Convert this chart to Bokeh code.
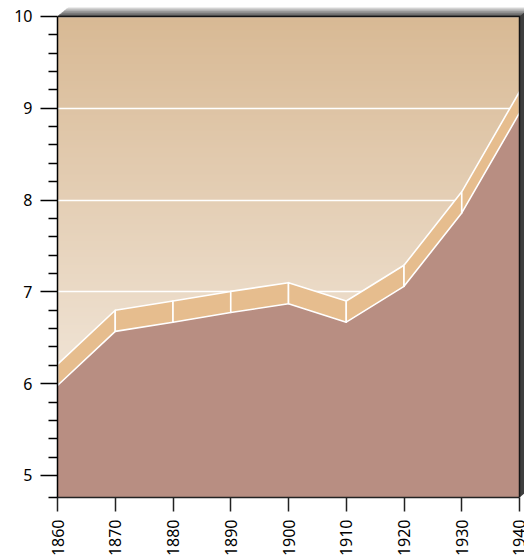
import numpy as np
from bokeh.plotting import figure
from bokeh.models import Range1d, FixedTicker
from bokeh.embed import file_html
from bokeh.resources import INLINE

# Series: value per decade
years = [1860, 1870, 1880, 1890, 1900, 1910, 1920, 1930, 1940]
values = [5.98, 6.57, 6.67, 6.775, 6.87, 6.67, 7.06, 7.86, 8.95]
y_ticks = [5, 6, 7, 8, 9, 10]
x_ticks = years

# Styling constants
DEPTH = 0.23            # vertical thickness of the 3D ribbon on top of the area
Y_MIN, Y_MAX = 4.76, 10
X_MIN, X_MAX = 1860, 1940
AREA_COLOR = "#b88e82"
RIBBON_COLOR = "#e6bd8e"
BG_TOP = (216, 185, 148)
BG_BOTTOM = (248, 242, 235)
FONT = "Noto Sans"

# Pixel geometry of the chart wall and its 3D depth edge
FRAME_W, FRAME_H = 462, 482
DX_PX, DY_PX = 11, 9
PX_X = FRAME_W / (X_MAX - X_MIN)
PX_Y = FRAME_H / (Y_MAX - Y_MIN)
DX = DX_PX / PX_X
DY = DY_PX / PX_Y
X_END = X_MAX + 5 / PX_X           # frame reaches the canvas edge
Y_END = Y_MAX + DY

p = figure(
    width=524, height=559,
    x_range=Range1d(X_MIN, X_END), y_range=Range1d(Y_MIN, Y_END),
    output_backend="svg", toolbar_location=None,
    min_border_left=57, min_border_right=0,
    min_border_top=7, min_border_bottom=61,
)
p.outline_line_color = None
p.background_fill_color = "white"
p.border_fill_color = "white"

# Vertical background gradient of the plot wall
n_rows = FRAME_H
img = np.empty((n_rows, 1), dtype=np.uint32)
view = img.view(dtype=np.uint8).reshape((n_rows, 1, 4))
for i in range(n_rows):
    t = i / (n_rows - 1)  # 0 at bottom, 1 at top
    for c in range(3):
        view[i, 0, c] = int(round(BG_BOTTOM[c] + (BG_TOP[c] - BG_BOTTOM[c]) * t))
    view[i, 0, 3] = 255
p.image_rgba(image=[img], x=X_MIN, y=Y_MIN, dw=X_MAX - X_MIN, dh=Y_MAX - Y_MIN, level="image")

# Grid
p.xgrid.visible = False
p.ygrid.ticker = FixedTicker(ticks=y_ticks)
p.ygrid.grid_line_color = "white"
p.ygrid.grid_line_width = 1.5
p.ygrid.bounds = (X_MIN, X_MAX)

# Main area
p.varea(x=years, y1=Y_MIN, y2=values, fill_color=AREA_COLOR)

# 3D ribbon: one face per segment
xs, ys = [], []
for i in range(len(years) - 1):
    x0, x1 = years[i], years[i + 1]
    v0, v1 = values[i], values[i + 1]
    xs.append([x0, x1, x1, x0])
    ys.append([v0, v1, v1 + DEPTH, v0 + DEPTH])
p.patches(xs=xs, ys=ys, fill_color=RIBBON_COLOR, line_color="white", line_width=1.6,
          line_join="round")

# 3D wall edges: shaded top strip and dark right strip
top_shades = ["#d6d6d6", "#b8b8b8", "#999999", "#7a7a7a", "#5a5a5a"]
n = len(top_shades)
wx, wy = [], []
for k, col in enumerate(top_shades):
    fa = 1 - k / n
    fb = 1 - (k + 1) / n
    ya, yb = Y_MAX + DY * fa, Y_MAX + DY * fb
    xa, xb = X_MIN + DX * fa, X_MIN + DX * fb
    wx.append([xb, xa, X_END + DX, X_END + DX])
    wy.append([yb, ya, ya, yb])
p.patches(xs=wx, ys=wy, fill_color=top_shades, line_color=top_shades, line_width=0.5)
p.patch(x=[X_MAX, X_MAX + DX, X_MAX + DX, X_MAX], y=[Y_MAX, Y_MAX + DY, Y_MIN + DY, Y_MIN],
        fill_color="#3e3e3e", line_color=None)
p.line(x=[X_MIN, X_MAX, X_MAX], y=[Y_MAX, Y_MAX, Y_MIN], line_color="#151515", line_width=1.5)

# Axes
minor = [Y_MIN] + [round(5 + 0.2 * k, 1) for k in range(26) if k % 5]
yax = p.yaxis[0]
yax.bounds = (Y_MIN, Y_MAX)
yax.ticker = FixedTicker(ticks=y_ticks, minor_ticks=minor)
yax.axis_line_color = "black"
yax.axis_line_width = 1.5
yax.major_tick_line_color = "black"
yax.major_tick_line_width = 1.5
yax.minor_tick_line_color = "black"
yax.minor_tick_line_width = 1.5
yax.major_tick_in = 0
yax.major_tick_out = 17
yax.minor_tick_in = 0
yax.minor_tick_out = 9
yax.major_label_text_font = FONT
yax.major_label_text_font_size = "16px"
yax.major_label_text_color = "#000000"
yax.major_label_standoff = 8

xax = p.xaxis[0]
xax.bounds = (X_MIN, X_MAX)
xax.ticker = FixedTicker(ticks=x_ticks)
xax.axis_line_color = "#222222"
xax.axis_line_width = 1.5
xax.major_tick_line_color = "#222222"
xax.major_tick_line_width = 1.5
xax.major_tick_in = 0
xax.major_tick_out = 14
xax.minor_tick_line_color = None
xax.major_label_orientation = np.pi / 2
xax.major_label_text_font = FONT
xax.major_label_text_font_size = "16px"
xax.major_label_text_color = "#000000"
xax.major_label_standoff = 8

open("out.html", "w").write(file_html(p, INLINE))
